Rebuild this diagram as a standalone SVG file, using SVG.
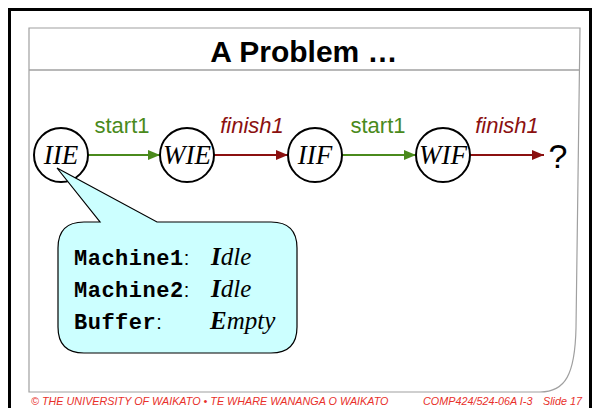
<svg xmlns="http://www.w3.org/2000/svg" width="594" height="408" viewBox="0 0 594 408">
<defs>
<style>
.node circle{fill:#fff;stroke:#000;stroke-width:2}
.node text{font-family:"Liberation Serif","Times New Roman",serif;font-style:italic;font-size:27px;text-anchor:middle}
.lbl{font-family:"Liberation Sans",Arial,sans-serif;font-size:22px;text-anchor:middle}
.g{fill:#4a8a1c}
.r{fill:#8b1010;font-style:italic}
.mono{font-family:"Liberation Mono","Courier New",monospace;font-weight:bold;font-size:22px;letter-spacing:0.5px}
.ser{font-family:"Liberation Serif","Times New Roman",serif;font-style:italic;font-size:25px}
.foot{font-family:"Liberation Sans",Arial,sans-serif;font-style:italic;font-size:10.8px;fill:#e8302a}
</style>
<marker id="ag" viewBox="0 0 12 10" refX="12" refY="5" markerWidth="12" markerHeight="10" markerUnits="userSpaceOnUse" orient="auto"><path d="M0,0 L12,5 L0,10 z" fill="#4a8a1c"/></marker>
<marker id="ar" viewBox="0 0 12 10" refX="12" refY="5" markerWidth="12" markerHeight="10" markerUnits="userSpaceOnUse" orient="auto"><path d="M0,0 L12,5 L0,10 z" fill="#8b1010"/></marker>
</defs>
<rect x="0" y="0" width="594" height="408" fill="#fff"/>
<path d="M9.5,420 V9.5 H590.5 V420" fill="none" stroke="#000" stroke-width="3"/>
<g id="frame">
<path d="M29,28 H580 L576,328 C575,375 565,392 540,392 H29 Z" fill="#fff" stroke="#a0a0a0" stroke-width="1.2"/>
<line x1="29" y1="70" x2="579" y2="70" stroke="#a0a0a0" stroke-width="1.5"/>
<text x="304" y="62" font-family="Liberation Sans,Arial,sans-serif" font-weight="bold" font-size="30" text-anchor="middle">A Problem …</text>
</g>
<g id="connectors">
<line x1="87" y1="155" x2="160" y2="155" stroke="#4a8a1c" stroke-width="2" marker-end="url(#ag)"/>
<line x1="214" y1="155" x2="288" y2="155" stroke="#8b1010" stroke-width="2" marker-end="url(#ar)"/>
<line x1="342" y1="155" x2="416" y2="155" stroke="#4a8a1c" stroke-width="2" marker-end="url(#ag)"/>
<line x1="470" y1="155" x2="544" y2="155" stroke="#8b1010" stroke-width="2" marker-end="url(#ar)"/>
<text class="lbl g" x="122" y="133">start1</text>
<text class="lbl r" x="252" y="133">finish1</text>
<text class="lbl g" x="378" y="133">start1</text>
<text class="lbl r" x="507" y="133">finish1</text>
</g>
<g id="IIE" class="node"><circle cx="61" cy="155" r="27"/><text x="61" y="164">IIE</text></g>
<g id="WIE" class="node"><circle cx="187" cy="155" r="27"/><text x="187" y="164">WIE</text></g>
<g id="IIF" class="node"><circle cx="315" cy="155" r="27"/><text x="315" y="164">IIF</text></g>
<g id="WIF" class="node"><circle cx="443" cy="155" r="27"/><text x="443" y="164">WIF</text></g>
<g id="unknown"><text x="558" y="168" font-family="Liberation Sans,Arial,sans-serif" font-size="34" text-anchor="middle">?</text></g>
<g id="callout">
<path d="M84,222 H100 L57,168 L157,222 H271 Q297,222 297,248 V327 Q297,353 271,353 H84 Q58,353 58,327 V248 Q58,222 84,222 Z" fill="#ccffff" stroke="#000" stroke-width="1.2"/>
<text x="74" y="265"><tspan class="mono">Machine1</tspan><tspan font-family="Liberation Sans,Arial,sans-serif" font-size="20">:</tspan></text>
<text class="ser" x="211" y="265"><tspan font-weight="bold">I</tspan>dle</text>
<text x="74" y="297"><tspan class="mono">Machine2</tspan><tspan font-family="Liberation Sans,Arial,sans-serif" font-size="20">:</tspan></text>
<text class="ser" x="211" y="297"><tspan font-weight="bold">I</tspan>dle</text>
<text x="74" y="329"><tspan class="mono">Buffer</tspan><tspan font-family="Liberation Sans,Arial,sans-serif" font-size="20">:</tspan></text>
<text class="ser" x="210" y="329"><tspan font-weight="bold">E</tspan>mpty</text>
</g>
<g id="footer">
<text class="foot" x="31" y="405">© THE UNIVERSITY OF WAIKATO  •  TE WHARE WANANGA O WAIKATO</text>
<text class="foot" x="423" y="405">COMP424/524-06A I-3</text>
<text class="foot" x="543" y="405">Slide 17</text>
</g>
</svg>
